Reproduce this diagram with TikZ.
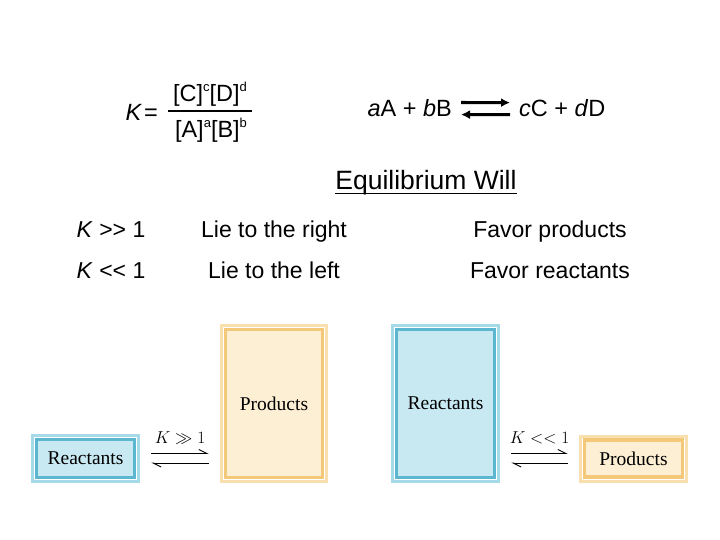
\documentclass[tikz,border=0pt]{standalone}
\usepackage{fontspec}
\setmainfont{Liberation Serif}
\setsansfont{Liberation Sans}
\usetikzlibrary{arrows.meta}

\definecolor{bluelt}{HTML}{A6DAE8}
\definecolor{bluedk}{HTML}{5AB7CF}
\definecolor{bluefill}{HTML}{C9E9F2}
\definecolor{orlt}{HTML}{FADFAE}
\definecolor{ordk}{HTML}{F3C878}
\definecolor{orfill}{HTML}{FDEFD4}

\newcommand{\supr}[1]{\raisebox{10pt}{\fontsize{13}{13}\selectfont #1}}

\begin{document}
\begin{tikzpicture}[x=1pt,y=-1pt,
		slide/.style={font=\sffamily\fontsize{23.5}{28}\selectfont, inner sep=0pt},
		rowtext/.style={font=\sffamily\fontsize{23}{28}\selectfont, inner sep=0pt, anchor=base},
		bluebox/.style={draw=bluedk, line width=3.5pt, fill=bluefill,
			preaction={draw=bluelt, line width=11pt}, preaction={draw=white, line width=5pt},
			font=\fontsize{19.5}{22}\selectfont, inner sep=0pt},
		orbox/.style={draw=ordk, line width=3.5pt, fill=orfill,
			preaction={draw=orlt, line width=11pt}, preaction={draw=white, line width=5pt},
			font=\fontsize{19.5}{22}\selectfont, inner sep=0pt},
		eqarrow/.style={-{Latex[length=9pt,width=9pt]}, line width=3.2pt, shorten <=9pt, shorten >=9pt},
		harp/.style={-{Straight Barb[harpoon,length=8pt,width=8pt]}, line width=0.9pt, shorten <=15pt, shorten >=15pt},
		klabel/.style={font=\fontsize{17}{20}\selectfont, inner sep=0pt, above=9pt}]
	\useasboundingbox (0,0) rectangle (720,540);

	\node[slide, anchor=base east] (K) at (158,121) {\textit{K}\kern2pt=};
	\node[slide, anchor=base] (num) at (210,102) {[C]\supr{c}[D]\supr{d}};
	\node[slide, anchor=base] (den) at (211,138) {[A]\supr{a}[B]\supr{b}};
	\draw[line width=2.5pt] (168,111) -- (252,111);

	\node[slide, anchor=base east] (lhs) at (452,117) {\textit{a}A + \textit{b}B};
	\node[slide, anchor=base west] (rhs) at (519,117) {\textit{c}C + \textit{d}D};
	\draw[eqarrow] ([yshift=6pt]lhs.east) -- ([yshift=6pt]rhs.west);
	\draw[eqarrow] ([yshift=-6pt]rhs.west) -- ([yshift=-6pt]lhs.east);

	\node[font=\sffamily\fontsize{26.5}{30}\selectfont, inner sep=0pt, anchor=base] (title) at (426,189.5) {Equilibrium Will};
	\draw[line width=1.6pt] ([yshift=-4pt]title.base west) -- ([yshift=-4pt]title.base east);

	\node[rowtext, anchor=base west] (kbig) at (76.5,237) {\textit{K} >\kern0pt> 1};
	\node[rowtext] (right) at (274,237) {Lie to the right};
	\node[rowtext] (prod) at (550,237) {Favor products};
	\node[rowtext, anchor=base west] (ksmall) at (76.5,278) {\textit{K} <\kern0pt< 1};
	\node[rowtext] (left) at (274,278) {Lie to the left};
	\node[rowtext] (reac) at (550,278) {Favor reactants};

	\node[bluebox, minimum width=98pt, minimum height=38pt] (rs1) at (85.5,458.5) {Reactants};
	\node[orbox, minimum width=97pt, minimum height=148pt] (pt1) at (274,403.5) {Products};
	\draw[harp] ([yshift=5pt]rs1.east) -- ([yshift=5pt]rs1.east -| pt1.west) node[klabel, midway] {$K \gg 1$};
	\draw[harp] ([yshift=-4.5pt]rs1.east -| pt1.west) -- ([yshift=-4.5pt]rs1.east);

	\node[bluebox, minimum width=98pt, minimum height=148pt] (rt2) at (445.5,403.5) {Reactants};
	\node[orbox, minimum width=98pt, minimum height=37pt] (ps2) at (633.5,458.5) {Products};
	\draw[harp] ([yshift=5pt]ps2.west -| rt2.east) -- ([yshift=5pt]ps2.west) node[klabel, midway] {$K << 1$};
	\draw[harp] ([yshift=-4.5pt]ps2.west) -- ([yshift=-4.5pt]ps2.west -| rt2.east);
\end{tikzpicture}
\end{document}
